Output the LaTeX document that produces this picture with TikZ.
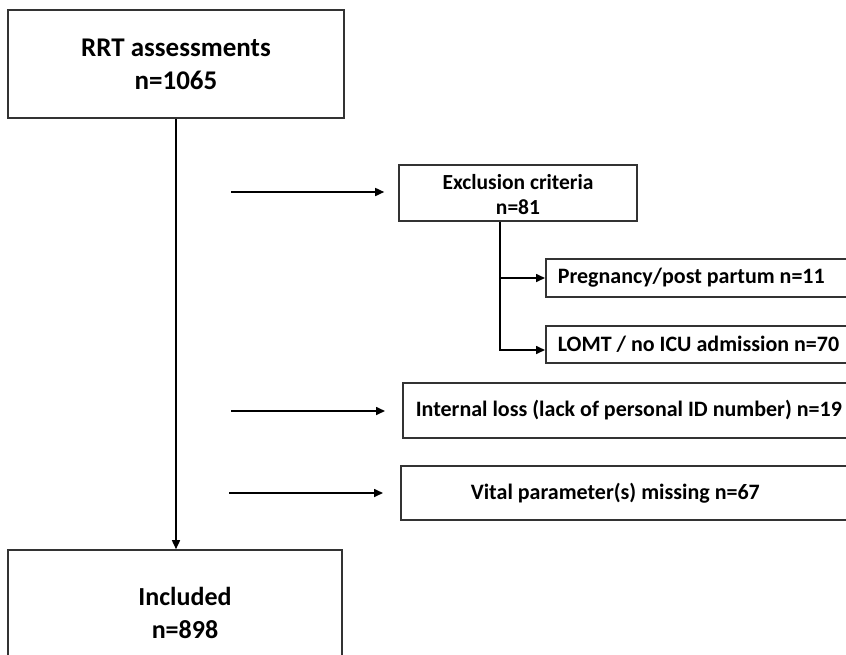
\documentclass[tikz,border=0pt]{standalone}
\usepackage{fontspec}
\setmainfont{Carlito}
\usetikzlibrary{arrows.meta}
\begin{document}
\begin{tikzpicture}[x=1pt,y=-1pt,
  box/.style={draw=black!80, line width=1.6pt, rectangle, inner sep=0pt},
  bigfont/.style={font=\bfseries\fontsize{26}{33}\selectfont},
  topfont/.style={font=\bfseries\fontsize{27}{33}\selectfont},
  midfont/.style={font=\bfseries\fontsize{21.5}{25}\selectfont},
  smallfont/.style={font=\bfseries\fontsize{22}{26}\selectfont},
  leftbox/.style={box, anchor=west, inner ysep=0pt},
  arr/.style={line width=1.6pt, -{Triangle[length=9pt,width=8pt]}}]
\useasboundingbox (0,0) rectangle (846,654);
\clip (0,0) rectangle (846,654);
% main boxes
\node[box, topfont, align=center, minimum width=336pt, minimum height=108pt] (top) at (176,64) {RRT assessments\\n=1065};
\node[box, minimum width=334pt, minimum height=114pt] (inc) at (175,607) {};
\node[bigfont, align=center] (inctext) at (185,613) {Included\\n=898};
% exclusion criteria
\node[box, minimum width=238pt, minimum height=56pt] (excl) at (518,193) {};
\node[midfont, align=center] (excltext) at (518,195) {Exclusion criteria\\n=81};
% sub-boxes
\node[leftbox, smallfont, minimum height=38pt, inner xsep=12pt] (preg) at (545,278) {\makebox[290pt][l]{Pregnancy/post partum n=11}};
\node[leftbox, smallfont, minimum height=37pt, inner xsep=12pt] (lomt) at (545,344.5) {\makebox[290pt][l]{LOMT / no ICU admission n=70}};
\node[leftbox, smallfont, minimum height=55pt, inner xsep=13pt] (internal) at (402,410.5) {\makebox[460pt][l]{Internal loss (lack of personal ID number) n=19}};
\node[leftbox, smallfont, minimum height=54pt, inner xsep=70pt] (vital) at (400,493) {\makebox[400pt][l]{Vital parameter(s) missing n=67}};
% connectors
\draw[arr] (top.south) -- (top.south |- inc.north);
\coordinate (brx) at (500,0);
\draw[arr] (excl.south -| brx) |- (preg.west);
\draw[arr] (excl.south -| brx) |- ([yshift=-5.5pt]lomt.west);
\coordinate (s1) at (231,192);
\coordinate (s2) at (231,411);
\coordinate (s3) at (229,493);
\draw[arr, shorten >=14pt] (s1) -- (excl.west |- s1);
\draw[arr, shorten >=17pt] (s2) -- (internal.west |- s2);
\draw[arr, shorten >=17pt] (s3) -- (vital.west |- s3);
\end{tikzpicture}
\end{document}
